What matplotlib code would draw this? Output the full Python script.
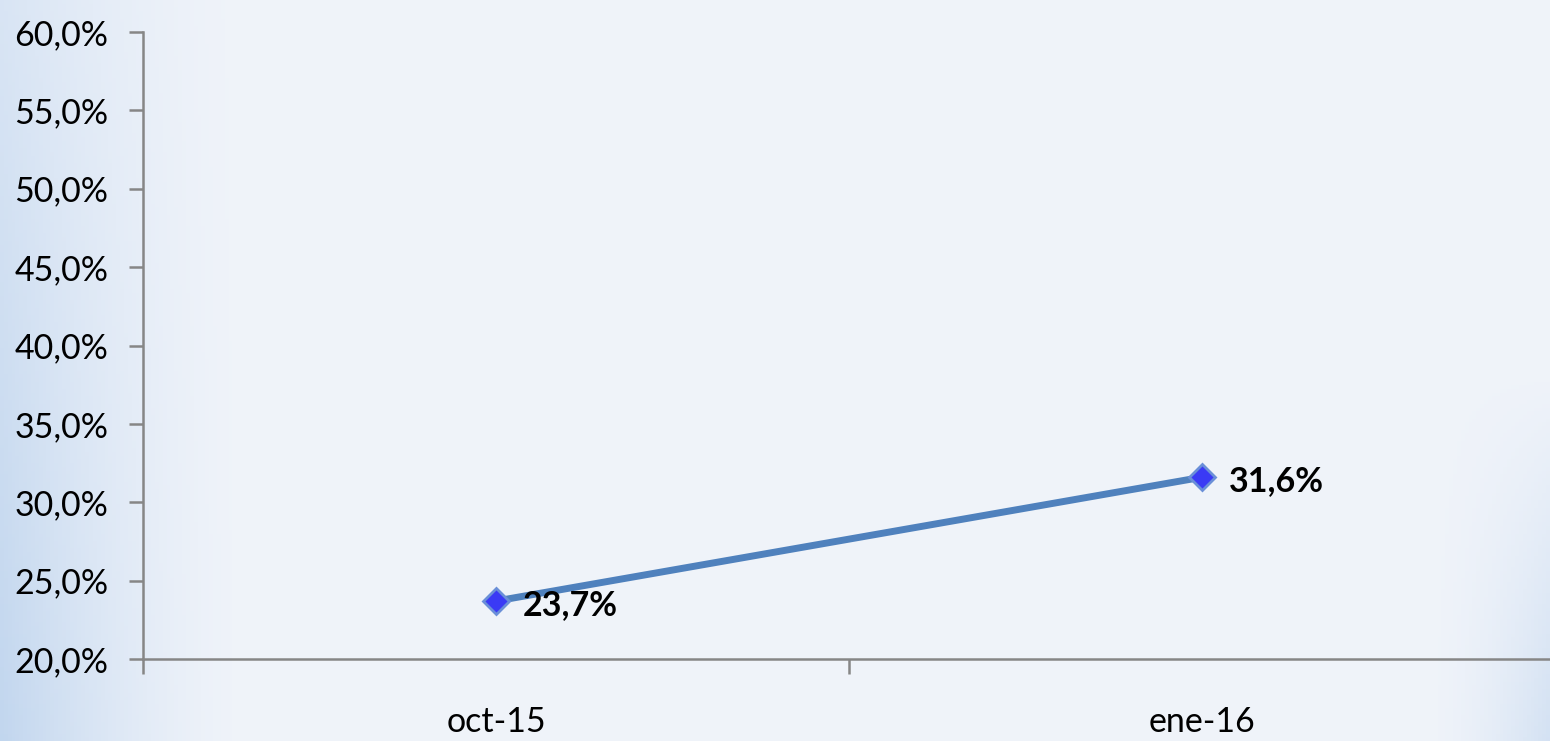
import numpy as np
import matplotlib
matplotlib.use('Agg')
import matplotlib.pyplot as plt
from matplotlib.ticker import FuncFormatter

categories = ['oct-15', 'ene-16']
values = [23.7, 31.6]
labels = ['23,7%', '31,6%']

plt.rcParams['font.family'] = ['Lato', 'DejaVu Sans']

W, H = 1550, 741
fig = plt.figure(figsize=(W / 100, H / 100), dpi=100)

# background: pale centre, light blue mostly at the left edge and lower corners
bg = fig.add_axes([0, 0, 1, 1])
yy, xx = np.mgrid[0:1:200j, 0:1:400j]   # yy = 0 at bottom
t_left = np.clip(1 - xx / 0.16, 0, 1) ** 1.5 * (0.5 + 0.5 * (1 - yy))
t_right = np.clip(1 - (1 - xx) / 0.08, 0, 1) ** 1.6 * np.clip(1 - yy / 0.5, 0, 1) * 0.6
t = np.clip(t_left + t_right, 0, 1)
c0 = np.array([0.94, 0.955, 0.98])
c1 = np.array([0.76, 0.84, 0.935])
img = c0[None, None, :] * (1 - t[..., None]) + c1[None, None, :] * t[..., None]
bg.imshow(img, aspect='auto', extent=[0, 1, 0, 1], origin='lower')
bg.axis('off')

left = 143 / W
right = 1555.5 / W
bottom = 1 - 659 / H
top = 1 - 32 / H
ax = fig.add_axes([left, bottom, right - left, top - bottom])
ax.patch.set_alpha(0)

x = np.arange(len(categories))
ax.plot(x, values, color='#4F81BD', lw=5, solid_capstyle='round', zorder=2)
ax.plot(x, values, ls='none', marker='D', ms=13, mfc='#3A3AF5', mec='#6A8FD8', mew=2, zorder=3)
for xi, v, lab in zip(x, values, labels):
    ax.annotate(lab, (xi, v), xytext=(19, -3), textcoords='offset points',
                ha='left', va='center', fontsize=24.5, fontweight='bold', color='black')

ax.set_xlim(-0.5, 1.5)
ax.set_ylim(20, 60)
ax.set_yticks(np.arange(20, 61, 5))
ax.yaxis.set_major_formatter(FuncFormatter(lambda v, p: ('%.1f%%' % v).replace('.', ',')))
ax.set_xticks([-0.5, 0.5, 1.5])
ax.set_xticklabels([])
ax.set_xticks(x, minor=True)
ax.set_xticklabels(categories, minor=True)

for s in ['top', 'right']:
    ax.spines[s].set_visible(False)
for s in ['left', 'bottom']:
    ax.spines[s].set_color('#868686')
    ax.spines[s].set_linewidth(1.8)

ax.tick_params(axis='y', which='major', length=10, width=1.8, color='#868686',
               labelsize=24.5, pad=15, labelcolor='black')
ax.tick_params(axis='x', which='major', length=11, width=1.8, color='#868686', direction='out')
ax.tick_params(axis='x', which='minor', length=0, labelsize=24.5, pad=34, labelcolor='black')

fig.savefig('out.png', dpi=100)
